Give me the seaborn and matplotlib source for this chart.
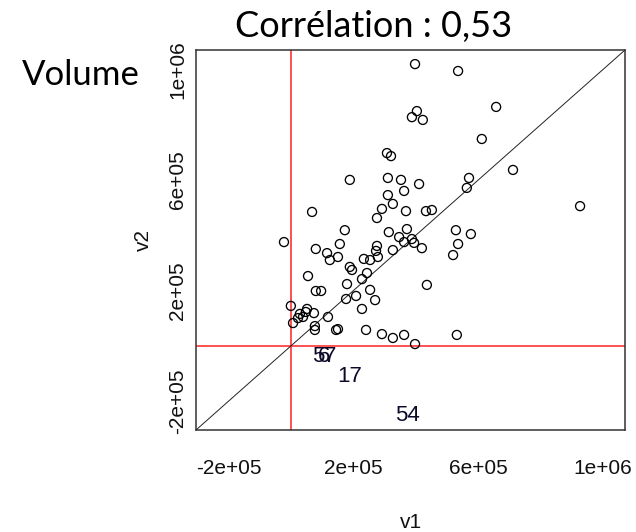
import numpy as np
import pandas as pd
import matplotlib
matplotlib.use("Agg")
import matplotlib.pyplot as plt
import seaborn as sns

# ---- data (values in units of 1e5) ----
v1 = [3.97, 5.35, 6.57, 4.03, 3.87, 4.22, 6.11, 3.07, 3.20, 7.11,
      1.88, 3.10, 3.52, 5.70, 4.10, 5.63, 3.62, 3.10, 3.26, 9.26,
      2.91, 3.68, 4.32, 4.51, 0.67, 2.75, 1.72, 3.13, 3.71, 5.28,
      5.76, -0.23, 1.56, 3.46, 3.62, 3.87, 3.94, 4.19, 5.35, 2.75,
      2.72, 3.26, 0.79, 1.15, 1.50, 1.24, 5.19, 2.33, 2.53, 2.78,
      1.88, 1.95, 2.43, 0.54, 2.27, 1.79, 4.35, 2.53, 0.79, 0.96,
      2.08, 1.76, 2.69, -0.01, 2.27, 0.51, 0.73, 0.28, 0.38, 0.47,
      0.22, 1.18, 0.06, 0.76, 0.76, 1.44, 1.50, 2.40, 2.91, 3.26,
      3.62, 3.97, 5.31]
v2 = [10.19, 9.94, 8.64, 8.49, 8.27, 8.17, 7.48, 6.97, 6.86, 6.36,
      6.00, 6.07, 6.00, 6.07, 5.85, 5.71, 5.60, 5.45, 5.13, 5.05,
      4.95, 4.87, 4.87, 4.91, 4.84, 4.62, 4.18, 4.11, 4.22, 4.18,
      4.04, 3.75, 3.68, 3.93, 3.75, 3.86, 3.72, 3.53, 3.68, 3.61,
      3.43, 3.46, 3.50, 3.35, 3.21, 3.10, 3.28, 3.14, 3.10, 3.21,
      2.85, 2.74, 2.63, 2.52, 2.41, 2.23, 2.20, 2.02, 1.98, 1.98,
      1.80, 1.69, 1.65, 1.44, 1.33, 1.33, 1.18, 1.15, 1.04, 1.22,
      1.00, 1.04, 0.82, 0.71, 0.57, 0.57, 0.60, 0.57, 0.42, 0.28,
      0.39, 0.06, 0.39]

# labelled observations with negative v2
label_text = ["5", "6", "7", "17", "54"]
label_v1 = [0.86, 1.04, 1.24, 1.88, 3.74]
label_v2 = [-0.40, -0.40, -0.40, -1.12, -2.53]

tick_vals = [-2, 0, 2, 4, 6, 8, 10]
tick_labels = ["-2e+05", "", "2e+05", "", "6e+05", "", "1e+06"]
lims = [-3.05, 10.70]

title = "Corrélation : 0,53"
side_note = "Volume"

scale = 1e5
df = pd.DataFrame({"v1": np.array(v1) * scale, "v2": np.array(v2) * scale})

sns.set_theme(style="white")
plt.rcParams["font.family"] = ["Liberation Sans", "DejaVu Sans"]

W, H = 636, 532
fig = plt.figure(figsize=(W / 100, H / 100), dpi=100)
L, R, T, B = 196, 625, 50, 430
ax = fig.add_axes([L / W, 1 - B / H, (R - L) / W, (B - T) / H])

ax.set_xlim(lims[0] * scale, lims[1] * scale)
ax.set_ylim(lims[0] * scale, lims[1] * scale)

# reference lines
ax.axvline(0, color="#ff2020", lw=1.1, zorder=1)
ax.axhline(0, color="#ff2020", lw=1.1, zorder=1)
ax.plot([lims[0] * scale, lims[1] * scale], [lims[0] * scale, lims[1] * scale],
        color="#222222", lw=0.7, zorder=1)

sns.scatterplot(data=df, x="v1", y="v2", ax=ax, s=42, marker="o",
                linewidth=0.95, zorder=3, legend=False)
coll = ax.collections[-1]
coll.set_facecolor("none")
coll.set_edgecolor("black")

for t, x, y in zip(label_text, label_v1, label_v2):
    ax.text(x * scale, y * scale, t, ha="center", va="center",
            fontsize=16, color="#0a0a28", family="Liberation Sans")

ax.set_xticks([v * scale for v in tick_vals])
ax.set_xticklabels(tick_labels)
ax.set_yticks([v * scale for v in tick_vals])
ax.set_yticklabels(tick_labels)
ax.tick_params(axis="both", which="both", direction="out", length=8.3,
               width=0.9, color="#333333", labelsize=15, labelcolor="#111111")
ax.tick_params(axis="x", pad=12.5)
ax.tick_params(axis="y", pad=-2.0)
for lab in ax.get_yticklabels():
    lab.set_rotation(90)
    lab.set_va("center")
    lab.set_ha("right")

for sp in ax.spines.values():
    sp.set_visible(True)
    sp.set_color("#333333")
    sp.set_linewidth(1.1)

ax.set_xlabel("v1", fontsize=15, color="#111111")
ax.set_ylabel("v2", fontsize=15, color="#111111")
ax.xaxis.set_label_coords(0.5, (B - 522) / (B - T))
ax.xaxis.label.set_va("center")
ax.yaxis.set_label_coords((143 - L) / (R - L), 0.5)
ax.yaxis.label.set_va("center")

fig.text(374 / W, 1 - 27 / H, title, ha="center", va="center",
         fontsize=26, family=["Lato", "DejaVu Sans"], color="black")
fig.text(22 / W, 1 - 75 / H, side_note, ha="left", va="center",
         fontsize=25, family=["Lato", "DejaVu Sans"], color="black")

fig.savefig("out.png", dpi=100)
